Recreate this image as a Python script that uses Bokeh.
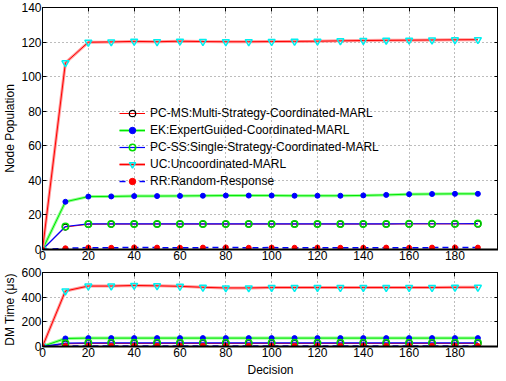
from bokeh.plotting import figure
from bokeh.layouts import column
from bokeh.models import FixedTicker, Legend, LegendItem, LinearAxis, Range1d
from bokeh.embed import file_html
from bokeh.resources import INLINE

decision = [0, 10, 20, 30, 40, 50, 60, 70, 80, 90, 100, 110, 120, 130, 140, 150, 160, 170, 180, 190]

labels = ["PC-MS:Multi-Strategy-Coordinated-MARL",
          "EK:ExpertGuided-Coordinated-MARL",
          "PC-SS:Single-Strategy-Coordinated-MARL",
          "UC:Uncoordinated-MARL",
          "RR:Random-Response"]

pop_pcms = [0, 13.0, 14.6, 14.7, 14.7, 14.7, 14.7, 14.7, 14.7, 14.7, 14.7, 14.7, 14.7, 14.7, 14.7, 14.7, 14.8, 14.8, 14.8, 14.8]
pop_ek = [0, 27.6, 30.6, 30.7, 30.9, 30.9, 31.0, 31.1, 31.2, 31.2, 31.2, 31.1, 31.1, 31.1, 31.3, 31.6, 32.0, 32.1, 32.2, 32.2]
pop_pcss = [0, 13.3, 14.8, 14.8, 14.8, 14.8, 14.8, 14.8, 14.8, 14.8, 14.8, 14.8, 14.8, 14.8, 14.8, 14.8, 14.9, 14.9, 14.9, 15.0]
pop_uc = [0, 108.0, 119.9, 120.1, 120.4, 120.2, 120.5, 120.3, 120.2, 120.2, 120.3, 120.4, 120.5, 120.7, 120.9, 121.0, 121.1, 121.2, 121.3, 121.4]
pop_rr = [0, 0.7, 1.1, 1.0, 1.2, 1.1, 1.0, 1.1, 1.2, 1.0, 1.1, 1.0, 1.1, 1.0, 1.0, 1.1, 1.0, 1.1, 1.2, 1.1]

tm_pcms = [0, 22, 25, 25, 25, 25, 25, 25, 25, 25, 25, 25, 25, 25, 25, 25, 25, 25, 25, 25]
tm_ek = [0, 65, 68, 68, 68, 68, 68, 68, 68, 68, 68, 68, 68, 68, 68, 68, 68, 68, 68, 68]
tm_pcss = [0, 27, 30, 30, 30, 30, 30, 30, 30, 30, 30, 30, 30, 30, 30, 30, 30, 30, 30, 30]
tm_uc = [0, 450, 490, 490, 495, 492, 488, 480, 475, 475, 478, 478, 478, 478, 478, 478, 478, 478, 480, 480]
tm_rr = [0, 4, 5, 5, 5, 5, 5, 5, 5, 5, 5, 5, 5, 5, 5, 5, 5, 5, 5, 5]

x_ticks = [0, 20, 40, 60, 80, 100, 120, 140, 160, 180]
pop_ticks = [0, 20, 40, 60, 80, 100, 120, 140]
tm_ticks = [0, 200, 400, 600]

FONT = "Liberation Sans"
FS = "12px"


def make_fig(height, ymax, yticks, ylabel, xlabel, top_border, bottom_border):
    p = figure(width=498, height=height, output_backend="svg", toolbar_location=None,
               x_range=Range1d(0, 199), y_range=Range1d(0, ymax),
               min_border_left=37, min_border_right=0,
               min_border_top=top_border, min_border_bottom=bottom_border)
    p.background_fill_color = "white"
    p.border_fill_color = "white"
    p.outline_line_color = "black"
    p.outline_line_width = 1
    for ax in (p.xaxis[0], p.yaxis[0]):
        ax.major_tick_in = 4
        ax.major_tick_out = 0
        ax.minor_tick_line_color = None
        ax.axis_line_color = "black"
        ax.major_label_text_font = FONT
        ax.major_label_text_font_size = FS
        ax.major_label_text_color = "black"
        ax.axis_label_text_font = FONT
        ax.axis_label_text_font_size = FS
        ax.axis_label_text_font_style = "normal"
        ax.axis_label_text_color = "black"
        ax.major_label_standoff = 1
        ax.axis_label_standoff = 1
    p.xaxis[0].ticker = FixedTicker(ticks=x_ticks)
    p.yaxis[0].ticker = FixedTicker(ticks=yticks)
    p.xaxis[0].axis_line_width = 2
    p.yaxis[0].axis_label = ylabel
    if xlabel:
        p.xaxis[0].axis_label = xlabel
        p.xaxis[0].axis_label_standoff = 3
    # inside ticks on top and right (box style), no labels
    top = LinearAxis(ticker=FixedTicker(ticks=x_ticks), major_tick_in=4, major_tick_out=0,
                     minor_tick_line_color=None, major_label_text_font_size="0px",
                     major_label_text_color=None,
                     major_label_standoff=0, axis_line_color=None)
    right = LinearAxis(ticker=FixedTicker(ticks=yticks), major_tick_in=4, major_tick_out=0,
                       minor_tick_line_color=None, major_label_text_font_size="0px",
                       major_label_text_color=None,
                       major_label_standoff=0, axis_line_color=None)
    p.add_layout(top, "above")
    p.add_layout(right, "right")
    for g in (p.xgrid[0], p.ygrid[0]):
        g.grid_line_color = "#7a7a7a"
        g.grid_line_dash = "1 3"
        g.grid_line_width = 1
    return p


def draw(p, ys):
    pcms, ek, pcss, uc, rr = ys
    r = {}
    # PC-MS
    l1 = p.line(decision, pcms, line_color="#ff0000", line_width=1)
    m1 = p.scatter(decision, pcms, marker="circle", size=6, fill_color=None,
                   line_color="black", line_width=1.2)
    r[0] = [l1, m1]
    # EK
    l2a = p.line(decision, ek, line_color="#90ff90", line_width=3)
    l2b = p.line(decision, ek, line_color="#00e600", line_width=1)
    m2 = p.scatter(decision, ek, marker="circle", size=5, fill_color="#0000ff",
                   line_color="#0000ff")
    r[1] = [l2a, l2b, m2]
    # PC-SS
    l3 = p.line(decision, pcss, line_color="#0000ff", line_width=1.2)
    m3 = p.scatter(decision, pcss, marker="circle", size=6.5, fill_color=None,
                   line_color="#00dd00", line_width=1.5)
    r[2] = [l3, m3]
    # UC
    l4a = p.line(decision, uc, line_color="#ff9a9a", line_width=3)
    l4b = p.line(decision, uc, line_color="#ff0000", line_width=1)
    m4 = p.scatter(decision, uc, marker="inverted_triangle", size=7, fill_color=None,
                   line_color="#00f0f0", line_width=1.5)
    r[3] = [l4a, l4b, m4]
    # RR
    l5 = p.line(decision, rr, line_color="#0000ff", line_width=1.5, line_dash="6 4")
    m5 = p.scatter(decision, rr, marker="circle", size=5, fill_color="#ff0000",
                   line_color="#ff0000")
    r[4] = [l5, m5]
    return r


p1 = make_fig(266, 140, pop_ticks, "Node Population", None, 7, 17)
rend = draw(p1, (pop_pcms, pop_ek, pop_pcss, pop_uc, pop_rr))
legend = Legend(items=[LegendItem(label=labels[i], renderers=rend[i]) for i in range(5)],
                location=(77, 60))
legend.background_fill_alpha = 0
legend.border_line_alpha = 0
legend.padding = 0
legend.margin = 0
legend.spacing = 1
legend.glyph_width = 26
legend.glyph_height = 16
legend.label_height = 16
legend.label_standoff = 5
legend.label_text_font = FONT
legend.label_text_font_size = FS
legend.label_text_color = "black"
p1.add_layout(legend)

p2 = make_fig(113, 600, tm_ticks, "DM Time (\u03bcs)", "Decision", 6, 31)
draw(p2, (tm_pcms, tm_ek, tm_pcss, tm_uc, tm_rr))

layout = column(p1, p2, spacing=0)
open("out.html", "w").write(file_html(layout, INLINE))
